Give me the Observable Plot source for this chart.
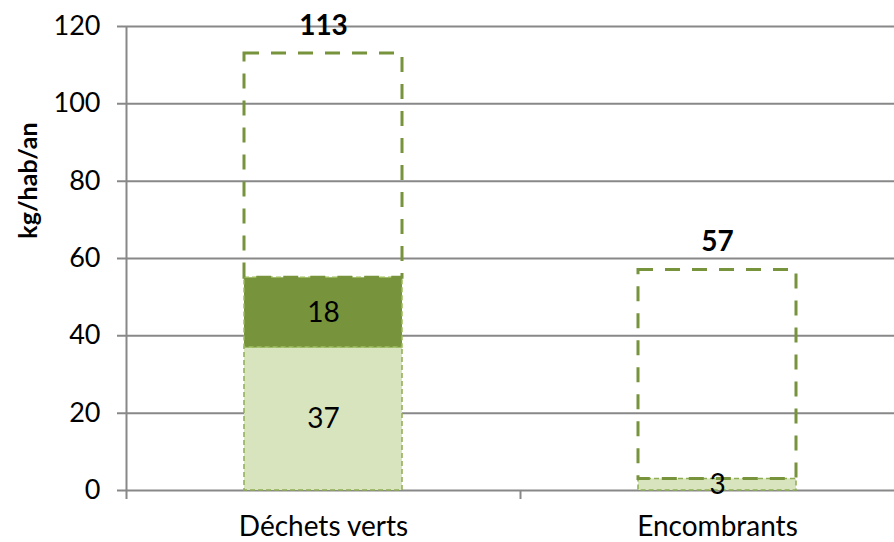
<!DOCTYPE html>
<html>
<head>
<meta charset="utf-8">
<script src="https://cdn.jsdelivr.net/npm/d3@7"></script>
<script src="https://cdn.jsdelivr.net/npm/@observablehq/plot@0.6"></script>
<style>
  html, body { margin: 0; padding: 0; background: #fff; }
  svg { font-family: Lato, "Open Sans", sans-serif; }
</style>
</head>
<body>
<div id="chart"></div>
<script>
// ---- data ----
const categories = ["Déchets verts", "Encombrants"];
const lightValues = [37, 3];      // light green segment
const darkValues = [18, 0];       // dark green segment
const totalValues = [113, 57];    // dashed total outline
const yTicks = [0, 20, 40, 60, 80, 100, 120];
const yLabel = "kg/hab/an";

// ---- build stacked rows ----
const rows = [];
categories.forEach((cat, i) => {
  const l = lightValues[i], d = darkValues[i], t = totalValues[i];
  rows.push({cat, series: "light", value: l, y1: 0, y2: l});
  rows.push({cat, series: "dark", value: d, y1: l, y2: l + d});
  rows.push({cat, series: "rest", value: t - l - d, y1: l + d, y2: t});
});
const totals = categories.map((cat, i) => ({cat, total: totalValues[i]}));

const W = 894, H = 542;
const xRange = [126, 914];
const padIn = 0.6, padOut = 0.3;
const step = (xRange[1] - xRange[0]) / (categories.length - padIn + 2 * padOut);
const GREEN = "#77933C", LIGHT = "#D7E4BD", GRID = "#888888";

const chart = Plot.plot({
  width: W,
  height: H,
  marginLeft: 126,
  marginRight: 0,
  marginTop: 26,
  marginBottom: 52,
  style: {fontFamily: "Lato, 'Open Sans', sans-serif", background: "white"},
  x: {type: "band", domain: categories, range: xRange, paddingInner: padIn, paddingOuter: padOut, align: 0.5},
  y: {domain: [0, 120]},
  marks: [
    // gridlines with left tick extension
    Plot.ruleY(yTicks, {stroke: GRID, strokeWidth: 2, insetLeft: -9}),
    // left axis line
    Plot.ruleX([categories[0]], {dx: -step / 2, stroke: GRID, strokeWidth: 2, insetBottom: -9}),
    // category boundary tick
    Plot.ruleX(categories.slice(1), {dx: -step / 2, y1: 0, y2: 0, stroke: GRID, strokeWidth: 2, insetBottom: -9}),
    // y tick labels
    Plot.axisY({ticks: yTicks, tickSize: 0, tickPadding: 26, fontSize: 27, fill: "black", label: null}),
    // x labels
    Plot.axisX({tickSize: 0, tickPadding: 26, fontSize: 28, fill: "black", label: null}),
    // y label
    Plot.text([yLabel], {frameAnchor: "left", textAnchor: "middle", dx: -98, dy: -78, rotate: -90, fontSize: 25, fontWeight: "bold", fill: "black"}),
    // filled segments
    Plot.barY(rows.filter(r => r.series === "light" && r.value > 0), {x: "cat", y1: "y1", y2: "y2", fill: LIGHT, stroke: "#8FAD52", strokeWidth: 1.5, strokeDasharray: "5,3"}),
    Plot.barY(rows.filter(r => r.series === "dark" && r.value > 0), {x: "cat", y1: "y1", y2: "y2", fill: GREEN, stroke: "#9BBB59", strokeWidth: 1.5, strokeDasharray: "5,3"}),
    // dashed remaining outline
    Plot.barY(rows.filter(r => r.series === "rest"), {x: "cat", y1: "y1", y2: "y2", fill: "none", stroke: GREEN, strokeWidth: 3, strokeDasharray: "15,12"}),
    // segment value labels
    Plot.text(rows.filter(r => r.series !== "rest" && r.value > 0), {x: "cat", y: r => (r.y1 + r.y2) / 2, text: r => String(r.value), fontSize: 28, fill: "black"}),
    // total labels
    Plot.text(totals, {x: "cat", y: "total", text: d => String(d.total), dy: -28, fontSize: 28, fontWeight: "bold", fill: "black"})
  ]
});
document.getElementById("chart").appendChild(chart);
</script>
</body>
</html>
